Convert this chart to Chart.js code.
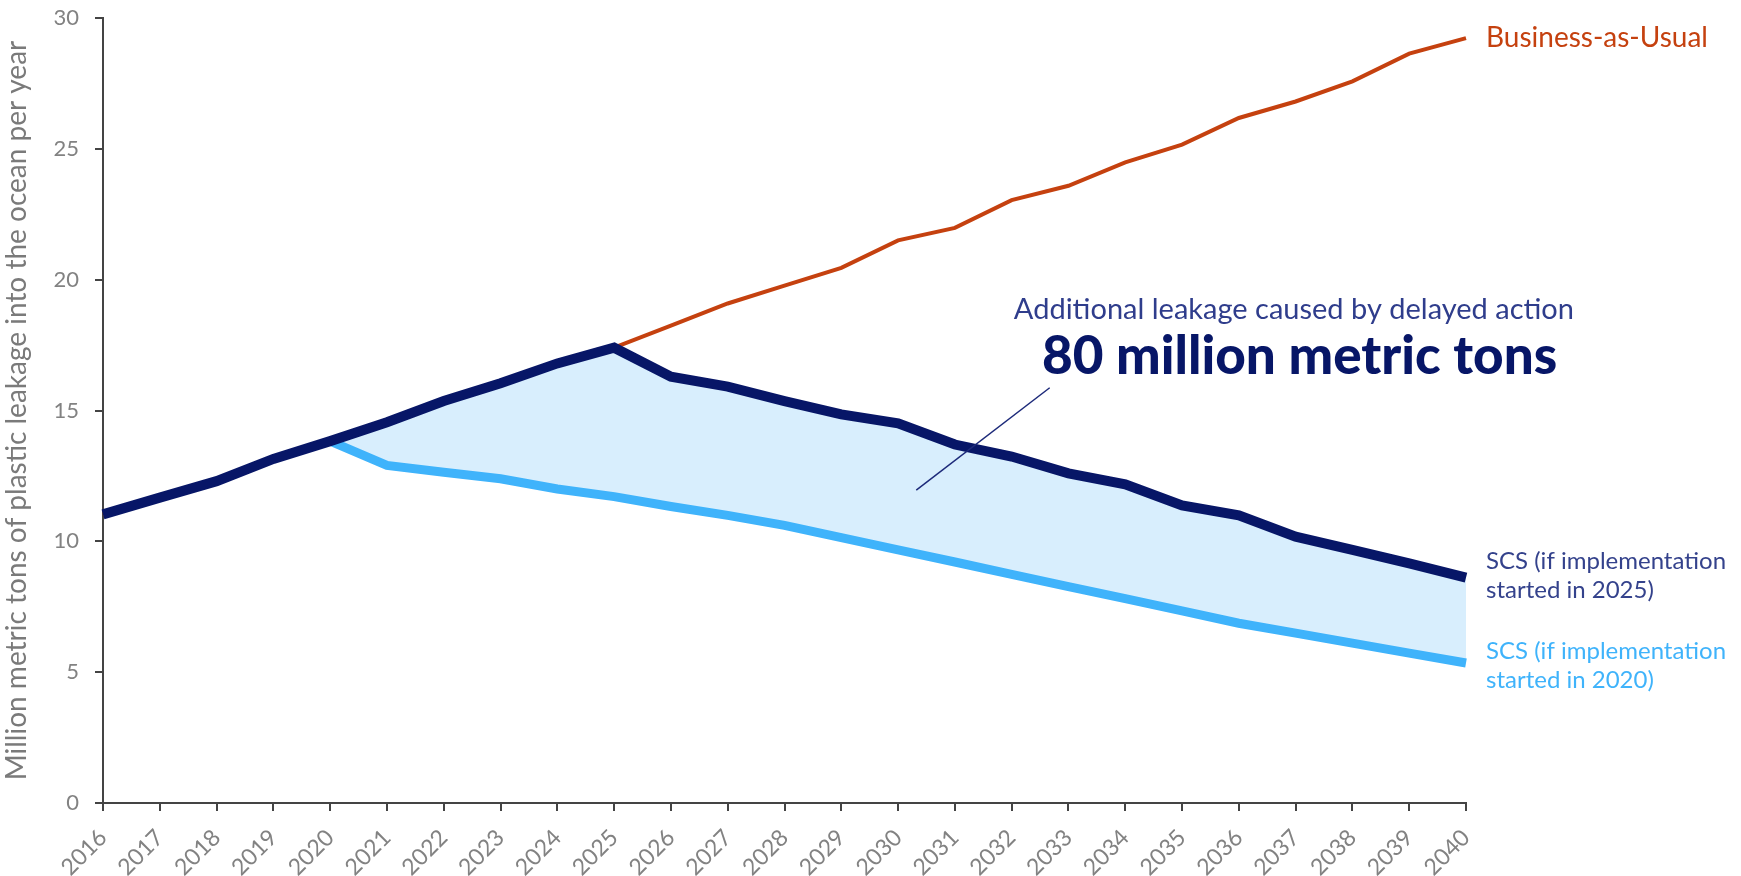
<!DOCTYPE html>
<html>
<head>
<meta charset="utf-8">
<script src="https://cdn.jsdelivr.net/npm/chart.js@4/dist/chart.umd.min.js"></script>
<style>
  html, body { margin: 0; padding: 0; background: #fff; }
  #wrap { width: 1741px; height: 876px; }
</style>
</head>
<body>
<div id="wrap"><canvas id="chart" width="1741" height="876"></canvas></div>
<script>
// data
const years = ['2016','2017','2018','2019','2020','2021','2022','2023','2024','2025','2026','2027','2028',
  '2029','2030','2031','2032','2033','2034','2035','2036','2037','2038','2039','2040'];

const businessAsUsual = [11.03, 11.67, 12.3, 13.15, 13.83, 14.55, 15.36, 16.04, 16.8, 17.4,
  18.24, 19.09, 19.77, 20.45, 21.5, 21.98, 23.04, 23.59, 24.48, 25.16, 26.18, 26.81, 27.58, 28.64, 29.23];

const scs2025 = [11.03, 11.67, 12.3, 13.15, 13.83, 14.55, 15.36, 16.04, 16.8, 17.4,
  16.29, 15.91, 15.36, 14.85, 14.51, 13.7, 13.24, 12.6, 12.18, 11.37, 10.99, 10.18, 9.67, 9.16, 8.61];

const scs2020 = [null, null, null, null, 13.83, 12.9, 12.64, 12.39, 12.0, 11.71,
  11.33, 10.99, 10.61, 10.14, 9.67, 9.21, 8.74, 8.27, 7.81, 7.34, 6.87, 6.49, 6.11, 5.73, 5.35];

const yTicks = [0, 5, 10, 15, 20, 25, 30];

const NAVY = '#071667';
const LIGHT = '#3fb3fb';
const ORANGE = '#c5410f';
const FONT = 'Lato, "Open Sans", sans-serif';

// labels at the right end of the lines + the callout
const labelsPlugin = {
  id: 'labels',
  afterDatasetsDraw(chart) {
    const ctx = chart.ctx;
    const xs = chart.scales.x, ys = chart.scales.y;
    const last = years.length - 1;
    const lx = xs.getPixelForValue(last) + 20;
    ctx.save();
    ctx.textAlign = 'left';
    ctx.textBaseline = 'middle';

    ctx.font = '28px ' + FONT;
    ctx.fillStyle = ORANGE;
    ctx.fillText('Business-as-Usual', lx, ys.getPixelForValue(businessAsUsual[last]));

    ctx.font = '24px ' + FONT;
    let y = ys.getPixelForValue(scs2025[last]);
    ctx.fillStyle = '#34428c';
    ctx.fillText('SCS (if implementation', lx, y - 16);
    ctx.fillText('started in 2025)', lx, y + 13);

    y = ys.getPixelForValue(scs2020[last]);
    ctx.fillStyle = LIGHT;
    ctx.fillText('SCS (if implementation', lx, y - 12);
    ctx.fillText('started in 2020)', lx, y + 17);

    // callout
    ctx.textAlign = 'center';
    ctx.font = '29px ' + FONT;
    ctx.fillStyle = '#2f3d8c';
    ctx.fillText('Additional leakage caused by delayed action',
      xs.getPixelForValue(20.97), ys.getPixelForValue(18.84));
    ctx.font = '900 53px ' + FONT;
    ctx.fillStyle = NAVY;
    ctx.fillText('80 million metric tons',
      xs.getPixelForValue(21.07), ys.getPixelForValue(17.05));

    ctx.strokeStyle = '#1d2a7a';
    ctx.lineWidth = 1.5;
    ctx.beginPath();
    ctx.moveTo(xs.getPixelForValue(16.67), ys.getPixelForValue(15.87));
    ctx.lineTo(xs.getPixelForValue(14.32), ys.getPixelForValue(11.96));
    ctx.stroke();
    ctx.restore();
  }
};

new Chart(document.getElementById('chart'), {
  type: 'line',
  data: {
    labels: years,
    datasets: [
      {
        label: 'SCS (if implementation started in 2025)',
        data: scs2025,
        borderColor: NAVY,
        borderWidth: 10,
        fill: false,
        pointRadius: 0,
        order: 1
      },
      {
        label: 'SCS (if implementation started in 2020)',
        data: scs2020,
        borderColor: LIGHT,
        borderWidth: 9,
        backgroundColor: '#d8eefd',
        fill: { target: 0 },
        pointRadius: 0,
        order: 2
      },
      {
        label: 'Business-as-Usual',
        data: businessAsUsual,
        borderColor: ORANGE,
        borderWidth: 4,
        fill: false,
        pointRadius: 0,
        order: 3
      }
    ]
  },
  plugins: [labelsPlugin],
  options: {
    responsive: false,
    animation: false,
    layout: { padding: { top: 18, right: 275, left: 0, bottom: 0 } },
    plugins: {
      legend: { display: false },
      tooltip: { enabled: false }
    },
    scales: {
      x: {
        offset: false,
        grid: { drawOnChartArea: false, drawTicks: true, tickLength: 8, color: '#444', lineWidth: 2 },
        border: { display: true, color: '#444', width: 2 },
        ticks: { color: '#828282', font: { family: FONT, size: 23 }, maxRotation: 45, minRotation: 45, autoSkip: false, padding: 13 },
        afterFit(scale) {
          scale.height = 73;
          scale.paddingTop = 0;
          scale.paddingBottom = 0;
        }
      },
      y: {
        min: 0,
        max: 30,
        afterBuildTicks(scale) { scale.ticks = yTicks.map(v => ({ value: v })); },
        grid: { drawOnChartArea: false, drawTicks: true, tickLength: 8, color: '#444', lineWidth: 2 },
        border: { display: true, color: '#444', width: 2 },
        ticks: { color: '#828282', font: { family: FONT, size: 22 }, padding: 16 },
        title: {
          display: true,
          text: 'Million metric tons of plastic leakage into the ocean per year',
          color: '#7a7a7a',
          font: { family: FONT, size: 28 },
          padding: { top: 0, bottom: 4 }
        },
        afterFit(scale) {
          scale.width = 103;
          scale.paddingTop = 0;
          scale.paddingBottom = 0;
        }
      }
    }
  }
});
</script>
</body>
</html>
